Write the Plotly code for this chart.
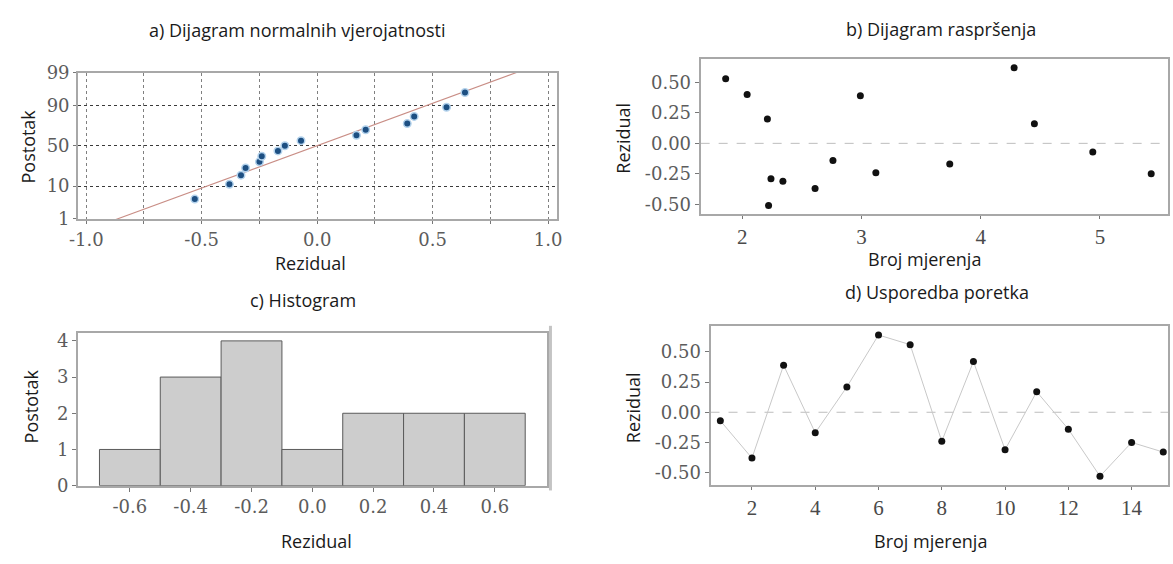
import plotly.graph_objects as go
import numpy as np
from statistics import NormalDist

W, H = 1173, 564

# ---------------- data ----------------
run_order = list(range(1, 16))
residuals = [-0.07, -0.38, 0.39, -0.17, 0.21, 0.64, 0.56, -0.24, 0.42,
             -0.31, 0.17, -0.14, -0.53, -0.25, -0.33]

# normal probability plot: percent positions of the sorted residuals
prob_pct = [4.5, 11.0, 17.5, 24.0, 30.5, 37.0, 43.5, 50.0,
            56.5, 63.0, 69.5, 76.0, 82.5, 89.0, 95.5]

# scatter (panel b)
fitted_b = [1.86, 2.04, 2.21, 2.24, 2.34, 2.22, 2.61, 2.76, 2.99, 3.12,
            3.74, 4.28, 4.45, 4.94, 5.43]
resid_b = [0.53, 0.40, 0.20, -0.29, -0.31, -0.51, -0.37, -0.14, 0.39, -0.24,
           -0.17, 0.62, 0.16, -0.07, -0.25]

# histogram (panel c)
hist_centers = [-0.6, -0.4, -0.2, 0.0, 0.2, 0.4, 0.6]
hist_counts = [1, 3, 4, 1, 2, 2, 2]

# tick labels
a_xticks = [-1.0, -0.75, -0.5, -0.25, 0.0, 0.25, 0.5, 0.75, 1.0]
a_xtext = ["-1.0", "", "-0.5", "", "0.0", "", "0.5", "", "1.0"]
a_ypct = [1, 10, 50, 90, 99]
res_ticks = [-0.5, -0.25, 0.0, 0.25, 0.5]
res_text = ["-0.50", "-0.25", "0.00", "0.25", "0.50"]
b_xticks = [2, 3, 4, 5]
c_xtext = ["-0.6", "-0.4", "-0.2", "0.0", "0.2", "0.4", "0.6"]
c_yticks = [0, 1, 2, 3, 4]
d_xticks = [2, 4, 6, 8, 10, 12, 14]

titles = ["a) Dijagram normalnih vjerojatnosti", "b) Dijagram raspršenja",
          "c) Histogram", "d) Usporedba poretka"]

# ---------------- helpers ----------------
def px(x):
    return x / W

def py(y):
    return 1 - y / H

nd = NormalDist()
zq = [nd.inv_cdf(p / 100) for p in prob_pct]
z_lo, z_hi = nd.inv_cdf(0.01), nd.inv_cdf(0.99)
a_ytickz = [nd.inv_cdf(p / 100) for p in a_ypct]

mu = float(np.mean(residuals))
sd = float(np.std(residuals, ddof=1))
line_z = [z_lo - 0.3, z_hi + 0.3]
line_x = [mu + sd * z for z in line_z]

TICKF = dict(family="DejaVu Serif", size=18, color="#5c5c5c")
TICKF_BIG = dict(family="Liberation Serif", size=21, color="#4a4a4a")
TITLEF = dict(family="Open Sans", size=18, color="#1a1a1a")
BOX = "#a8a8a8"

fig = go.Figure()

# panel a
fig.add_trace(go.Scatter(x=line_x, y=line_z, mode="lines",
                         line=dict(color="#c98e86", width=1.1),
                         xaxis="x", yaxis="y", hoverinfo="skip"))
fig.add_trace(go.Scatter(x=sorted(residuals), y=zq, mode="markers",
                         marker=dict(color="#1d4f82", size=7.5,
                                     line=dict(color="#b3d2ec", width=1.5)),
                         xaxis="x", yaxis="y"))
# panel b
fig.add_trace(go.Scatter(x=fitted_b, y=resid_b, mode="markers",
                         marker=dict(color="#111111", size=7),
                         cliponaxis=False, xaxis="x2", yaxis="y2"))
# panel c
fig.add_trace(go.Bar(x=hist_centers, y=hist_counts, width=0.2,
                     marker=dict(color="#cdcdcd", line=dict(color="#5a5a5a", width=1)),
                     xaxis="x3", yaxis="y3"))
# panel d
fig.add_trace(go.Scatter(x=run_order, y=residuals, mode="lines+markers",
                         line=dict(color="#c8c8c8", width=1),
                         marker=dict(color="#111111", size=7),
                         cliponaxis=False, xaxis="x4", yaxis="y4"))

common_axis = dict(showline=True, mirror=True, linecolor=BOX, linewidth=2,
                   tickfont=TICKF, zeroline=False, ticks="outside",
                   ticklen=4, tickcolor="#777777", fixedrange=True)
big_x = {**common_axis, "tickfont": TICKF_BIG, "ticklen": 3}

fig.update_layout(
    width=W, height=H, margin=dict(l=0, r=0, t=0, b=0),
    paper_bgcolor="white", plot_bgcolor="white", showlegend=False,
    bargap=0,
    xaxis=dict(domain=[px(70), px(555)], anchor="y", range=[-1.035, 1.04],
               tickmode="array", tickvals=a_xticks, ticktext=a_xtext,
               showgrid=True, griddash="dot", gridcolor="#808080", gridwidth=1,
               **{**common_axis, "ticklen": 3}),
    yaxis=dict(domain=[py(216), py(64)], anchor="x", range=[z_lo, z_hi],
               tickmode="array", tickvals=a_ytickz, ticktext=[str(p) for p in a_ypct],
               showgrid=True, griddash="dot", gridcolor="#3a3a3a", gridwidth=1,
               **{**common_axis, "ticklen": 3}),
    xaxis2=dict(domain=[px(700), 1.0], anchor="y2", range=[1.65, 5.571],
                tickmode="array", tickvals=b_xticks, ticktext=[str(v) for v in b_xticks],
                showgrid=False, **big_x),
    yaxis2=dict(domain=[py(211), py(50)], anchor="x2", range=[-0.58, 0.69],
                tickmode="array", tickvals=res_ticks, ticktext=res_text,
                showgrid=False, **common_axis),
    xaxis3=dict(domain=[px(70), px(544)], anchor="y3", range=[-0.77, 0.77],
                tickmode="array", tickvals=hist_centers, ticktext=c_xtext,
                showgrid=False, **common_axis),
    yaxis3=dict(domain=[py(493), py(334)], anchor="x3", range=[0, 4.23],
                tickmode="array", tickvals=c_yticks, ticktext=[str(v) for v in c_yticks],
                showgrid=False, **common_axis),
    xaxis4=dict(domain=[px(710), 1.0], anchor="y4", range=[0.69, 15.15],
                tickmode="array", tickvals=d_xticks, ticktext=[str(v) for v in d_xticks],
                showgrid=False, **big_x),
    yaxis4=dict(domain=[py(492), py(327)], anchor="x4", range=[-0.60, 0.716],
                tickmode="array", tickvals=res_ticks, ticktext=res_text,
                showgrid=False, **common_axis),
)

# dashed zero lines in panels b and d
for xa, ya in (("x2", "y2"), ("x4", "y4")):
    fig.add_shape(type="line", xref=f"{xa} domain", yref=ya, x0=0, x1=1, y0=0, y1=0,
                  line=dict(color="#bdbdbd", width=1, dash="dash"), layer="below")

# extra frame line right of histogram
fig.add_shape(type="line", xref="paper", yref="paper", x0=px(548), x1=px(548),
              y0=py(498), y1=py(327), line=dict(color="#c4c4c4", width=3))

ann = []
# subplot titles
for text, (x, y) in zip(titles, [(292, 20), (943, 19), (298, 300), (939, 292)]):
    ann.append(dict(text=text, x=px(x), y=py(y), xref="paper", yref="paper",
                    showarrow=False, font=TITLEF, xanchor="center", yanchor="middle"))
# axis titles
for text, (x, y), ang in [
    ("Rezidual", (305, 262), 0), ("Postotak", (19, 141), -90),
    ("Broj mjerenja", (927, 258), 0), ("Rezidual", (622, 132), -90),
    ("Rezidual", (311, 551), 0), ("Postotak", (22, 411), -90),
    ("Broj mjerenja", (933, 551), 0), ("Rezidual", (631, 412), -90)]:
    ann.append(dict(text=text, x=px(x), y=py(y), xref="paper", yref="paper",
                    showarrow=False, font=TITLEF, textangle=ang,
                    xanchor="center", yanchor="middle"))
fig.update_layout(annotations=ann)

# remove the default page margin so the figure fills the window exactly
fig.write_html("out.html",
               config={"displayModeBar": False, "staticPlot": True},
               post_script="document.body.style.margin='0';"
                           "document.body.style.overflow='hidden';")
